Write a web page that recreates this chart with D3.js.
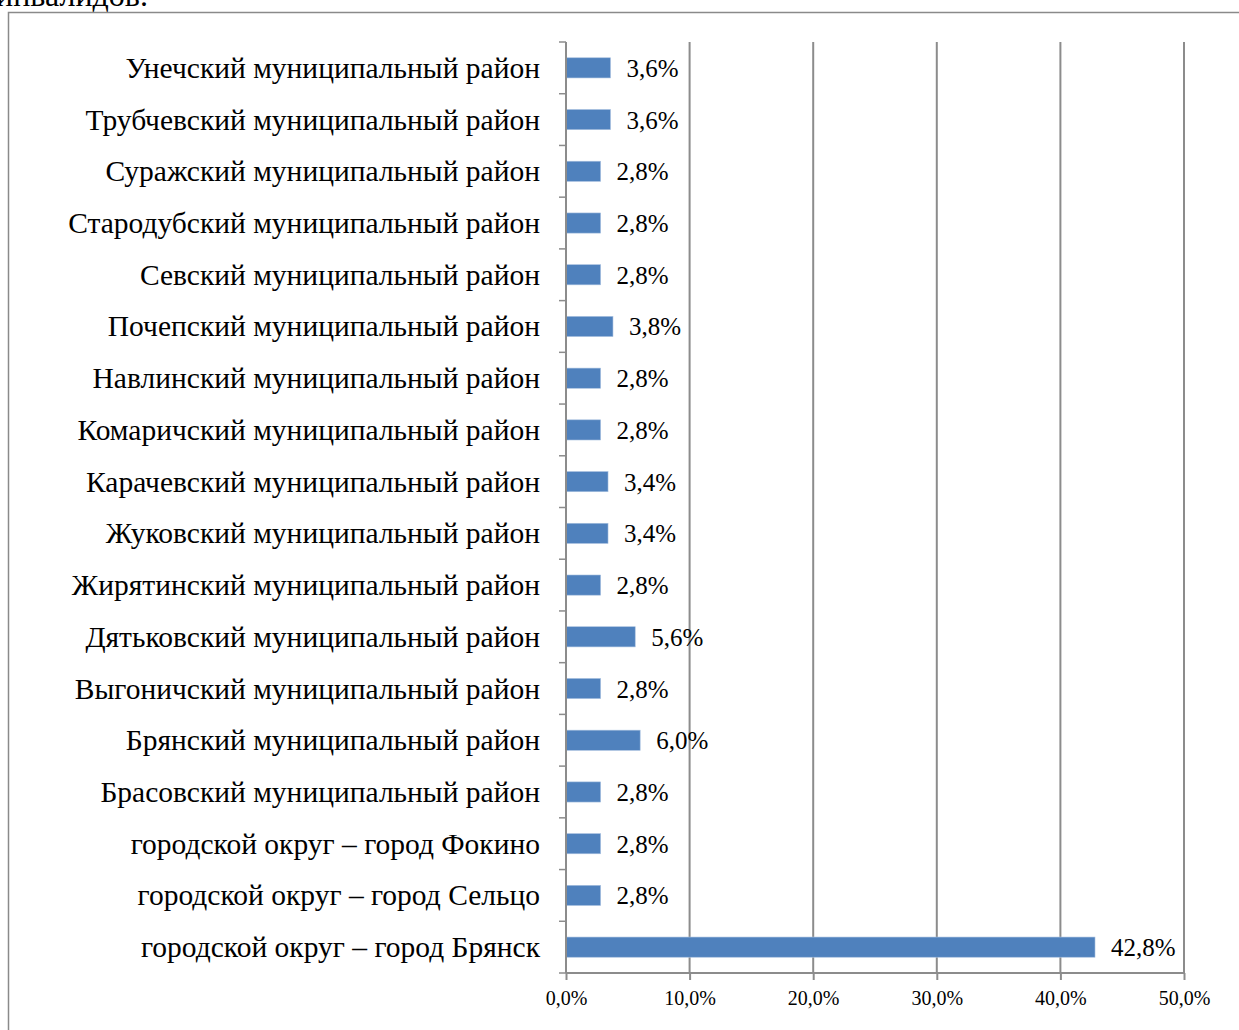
<!DOCTYPE html>
<html lang="ru">
<head>
<meta charset="UTF-8">
<title>Доля по районам</title>
<style>
  body { margin: 0; background: #fff; }
  svg { display: block; font-family: "Liberation Serif", "Times New Roman", serif; }
</style>
</head>
<body>
<div id="chart"></div>
<script src="https://cdnjs.cloudflare.com/ajax/libs/d3/7.8.5/d3.min.js"></script>
<script>
// данные (сверху вниз, как на рисунке)
const districts = [
  "Унечский муниципальный район",
  "Трубчевский муниципальный район",
  "Суражский муниципальный район",
  "Стародубский муниципальный район",
  "Севский муниципальный район",
  "Почепский муниципальный район",
  "Навлинский муниципальный район",
  "Комаричский муниципальный район",
  "Карачевский муниципальный район",
  "Жуковский муниципальный район",
  "Жирятинский муниципальный район",
  "Дятьковский муниципальный район",
  "Выгоничский муниципальный район",
  "Брянский муниципальный район",
  "Брасовский муниципальный район",
  "городской округ – город Фокино",
  "городской округ – город Сельцо",
  "городской округ – город Брянск"
];
const shares = [3.6, 3.6, 2.8, 2.8, 2.8, 3.8, 2.8, 2.8, 3.4, 3.4, 2.8, 5.6, 2.8, 6.0, 2.8, 2.8, 2.8, 42.8];
const xTicks = [0, 10, 20, 30, 40, 50];

const W = 1239, H = 1030;
const plot = { left: 566, right: 1184, top: 42, bottom: 973 };
const fmt = v => v.toFixed(1).replace(".", ",") + "%";

const svg = d3.select("#chart").append("svg")
  .attr("width", W).attr("height", H);

// обрезанный текст сверху
svg.append("text")
  .attr("x", -4).attr("y", 6)
  .style("font-size", "32px")
  .text("инвалидов.");

// рамка
svg.append("rect")
  .attr("x", 8.5).attr("y", 12.5)
  .attr("width", W + 20).attr("height", H + 20)
  .attr("fill", "none").attr("stroke", "#8a8a8a").attr("stroke-width", 1.5);

const x = d3.scaleLinear().domain([0, 50]).range([plot.left, plot.right]);
const y = d3.scaleBand().domain(districts).range([plot.top, plot.bottom]).paddingInner(0.61).paddingOuter(0.305);
const band = d3.scaleBand().domain(districts).range([plot.top, plot.bottom]);

// сетка
svg.append("g").selectAll("line")
  .data(xTicks.slice(1))
  .enter().append("line")
  .attr("x1", d => x(d)).attr("x2", d => x(d))
  .attr("y1", plot.top).attr("y2", plot.bottom)
  .attr("stroke", "#8c8c8c").attr("stroke-width", 2);

// столбцы
svg.append("g").selectAll("rect")
  .data(districts)
  .enter().append("rect")
  .attr("x", x(0))
  .attr("y", d => y(d))
  .attr("width", (d, i) => x(shares[i]) - x(0))
  .attr("height", y.bandwidth())
  .attr("fill", "#4f81bd")
  .attr("stroke", "#a8c0df").attr("stroke-width", 0.6);

// подписи значений
svg.append("g").selectAll("text")
  .data(districts)
  .enter().append("text")
  .attr("x", (d, i) => x(shares[i]) + 16)
  .attr("y", d => band(d) + band.bandwidth() / 2 + 9)
  .style("font-size", "25px")
  .text((d, i) => fmt(shares[i]));

// ось Y
const yAxis = svg.append("g");
yAxis.append("line")
  .attr("x1", plot.left).attr("x2", plot.left)
  .attr("y1", plot.top).attr("y2", plot.bottom)
  .attr("stroke", "#8c8c8c").attr("stroke-width", 2);
yAxis.selectAll("line.tick")
  .data(d3.range(districts.length + 1))
  .enter().append("line")
  .attr("class", "tick")
  .attr("x1", plot.left - 7).attr("x2", plot.left)
  .attr("y1", i => plot.top + i * band.step())
  .attr("y2", i => plot.top + i * band.step())
  .attr("stroke", "#8c8c8c").attr("stroke-width", 1.5);
yAxis.selectAll("text")
  .data(districts)
  .enter().append("text")
  .attr("x", 540)
  .attr("y", d => band(d) + band.bandwidth() / 2 + 10)
  .attr("text-anchor", "end")
  .style("font-size", "29.5px")
  .text(d => d);

// ось X
const xAxis = svg.append("g")
  .attr("transform", `translate(0,${plot.bottom})`)
  .call(d3.axisBottom(x).tickValues(xTicks).tickSize(7).tickFormat(d => fmt(d)));
xAxis.select(".domain").attr("stroke", "#8c8c8c").attr("stroke-width", 2)
  .attr("d", `M${plot.left},0H${plot.right}`);
xAxis.selectAll(".tick line").attr("stroke", "#8c8c8c").attr("stroke-width", 2);
xAxis.selectAll(".tick text")
  .attr("y", 18)
  .style("font-family", "Liberation Serif, serif")
  .style("font-size", "20px")
  .attr("fill", "#000");
</script>
</body>
</html>
